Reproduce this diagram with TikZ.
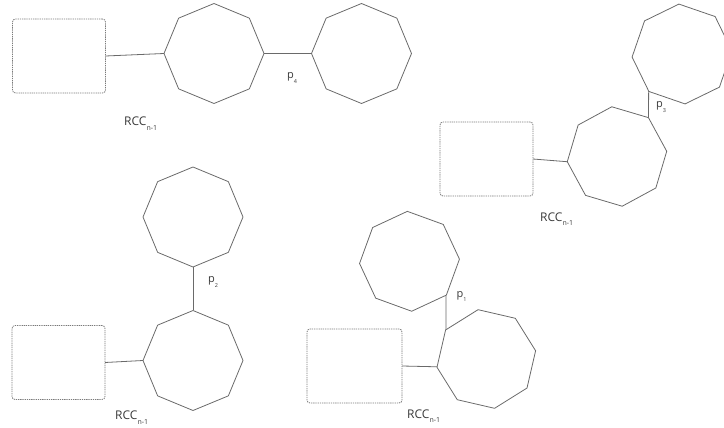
\documentclass[tikz,border=0pt]{standalone}
\usepackage{fontspec}
\setmainfont{Open Sans}
\usetikzlibrary{shapes.geometric}
\definecolor{linegray}{HTML}{6A6A6A}
\definecolor{dashgray}{HTML}{7A7A7A}
\definecolor{txtgray}{HTML}{3A3A3A}
\newcommand{\lowsub}[3]{\raisebox{-#2pt}{\fontsize{#1}{#1}\selectfont #3}}
\tikzset{
  oct/.style={draw=linegray, line width=0.8pt, regular polygon, regular polygon sides=8,
    minimum size=100pt, inner sep=0pt, outer sep=0pt},
  rbox/.style={draw=dashgray, dash pattern=on 1.3pt off 0.9pt, line width=0.8pt, rounded corners=3pt,
    minimum width=93pt, minimum height=74pt, inner sep=0pt, outer sep=0pt},
  link/.style={draw=linegray, line width=0.8pt},
  rcc/.style={text=txtgray, font=\fontsize{12}{14}\selectfont, inner sep=0pt, anchor=base west},
  plab/.style={text=txtgray, font=\fontsize{11}{13}\selectfont, inner sep=0pt, anchor=base west}
}
\newcommand{\rcclabel}{RCC\lowsub{7}{4.5}{n-1}}
\begin{document}
\begin{tikzpicture}[x=1pt,y=-1pt]
\useasboundingbox (0,0) rectangle (724,428);
% group 1 (top-left)
\node[rbox] (r1) at (59,56) {};
\node[oct, shape border rotate=22.5] (o1a) at (214,53.5) {};
\node[oct, shape border rotate=22.5] (o1b) at (361.5,53.5) {};
\draw[link] (r1.east) -- (o1a.180);
\draw[link] (o1a.0) -- (o1b.180);
\node[plab] (p4) at (287,79) {p\lowsub{5.5}{4.5}{4}};
\node[rcc] (l1) at (124,126) {\rcclabel};
% group 2 (top-right)
\node[rbox] (r2) at (486.5,159) {};
\node[oct, shape border rotate=28.5] (o2a) at (617,156.5) {};
\node[oct, shape border rotate=26] (o2b) at (682,54) {};
\draw[link] (r2.east) -- (o2a.186);
\draw[link] (o2a.51) -- (o2b.228.5);
\node[plab] (p3) at (656,108) {p\lowsub{5.5}{4.5}{3}};
\node[rcc] (l2) at (540,221.5) {\rcclabel};
% group 3 (bottom-left)
\node[rbox] (r3) at (58.5,362.5) {};
\node[oct, shape border rotate=22.5] (o3a) at (193,360.5) {};
\node[oct, shape border rotate=22.5] (o3b) at (193,217) {};
\draw[link] (r3.east) -- (o3a.180);
\draw[link] (o3a.90) -- (o3b.270);
\node[plab] (p2) at (208,282.5) {p\lowsub{5.5}{4.5}{2}};
\node[rcc] (l3) at (115,419.5) {\rcclabel};
% group 4 (bottom-middle)
\node[rbox, minimum width=95pt] (r4) at (354.5,366) {};
\node[oct, shape border rotate=32] (o4a) at (486.3,359) {};
\node[oct, shape border rotate=25] (o4b) at (409.5,261.3) {};
\draw[link] (r4.east) -- (o4a.189.5);
\draw[link] (o4a.144.5) -- (o4b.317.5);
\node[plab] (p1) at (456.5,297) {p\lowsub{5.5}{4.5}{1}};
\node[rcc] (l4) at (407,418) {\rcclabel};
\end{tikzpicture}
\end{document}
